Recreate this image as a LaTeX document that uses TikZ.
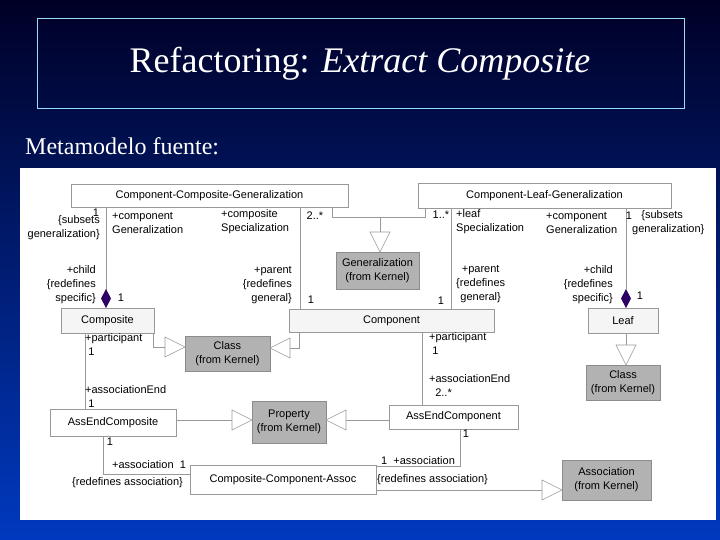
\documentclass[tikz,border=0pt]{standalone}
\usepackage{fontspec}
\setmainfont{Liberation Serif}
\newfontfamily\lsans{Liberation Sans}
\begin{document}
\begin{tikzpicture}[x=1pt,y=-1pt,
 box/.style={draw=black!40,fill=white,line width=0.6pt,font=\lsans\fontsize{11}{12}\selectfont},
 kbox/.style={draw=black!45,fill=black!30,line width=0.6pt,font=\lsans\fontsize{11}{14}\selectfont,align=center},
 lbox/.style={box,fill=black!4},
 ln/.style={draw=black!40,line width=0.6pt},
 lab/.style={font=\lsans\fontsize{11}{14}\selectfont,inner sep=0pt,align=left},
 tri/.style={draw=black!40,fill=white,line width=0.6pt},
 dia/.style={fill=black!70!red!60!blue,draw=none}]
\shade[top color=black!85!blue,bottom color=blue!70!cyan!75!black] (0,0) rectangle (720,540);
\useasboundingbox (0,0) rectangle (720,540);
\draw[cyan!40!white,line width=0.6pt] (37,18) rectangle (684,108);
\node[white,font=\fontsize{36}{40}\selectfont] (title) at (360,64) {Refactoring: \textit{Extract Composite}};
\node[white,anchor=west,font=\fontsize{24}{26}\selectfont,inner sep=0pt] (sub) at (25,146) {Metamodelo fuente:};
\fill[white] (20,168) rectangle (716,520);
% boxes
\node[box,minimum width=277pt,minimum height=23pt] (ccg) at (209.5,195.5) {Component-Composite-Generalization};
\node[box,minimum width=253pt,minimum height=25pt] (clg) at (544.5,195.5) {Component-Leaf-Generalization};
\node[kbox,minimum width=83pt,minimum height=37pt] (gen) at (377.5,270.5) {Generalization\\(from Kernel)};
\node[lbox,minimum width=93pt,minimum height=25pt] (comp) at (107.5,320.5) {Composite};
\node[lbox,minimum width=205pt,minimum height=23pt] (cpt) at (391.5,320.5) {Component};
\node[lbox,minimum width=70pt,minimum height=25pt] (leaf) at (623,320.5) {Leaf};
\node[kbox,minimum width=85pt,minimum height=35pt] (cls) at (227.5,353.5) {Class\\(from Kernel)};
\node[kbox,minimum width=74pt,minimum height=35pt] (cls2) at (623,382.5) {Class\\(from Kernel)};
\node[box,minimum width=126pt,minimum height=27pt] (aec) at (113,422.5) {AssEndComposite};
\node[kbox,minimum width=74pt,minimum height=42pt] (prop) at (289,422) {Property\\(from Kernel)};
\node[box,minimum width=129pt,minimum height=24pt] (aep) at (453.5,417) {AssEndComponent};
\node[box,minimum width=186pt,minimum height=29pt] (cca) at (283,479.5) {Composite-Component-Assoc};
\node[kbox,minimum width=89pt,minimum height=40pt] (asc) at (606.5,480) {Association\\(from Kernel)};
% connectors
\path[ln] (106,207) -- (106,290);
\fill[dia] (106,289) -- (111,298.5) -- (106,308) -- (101,298.5) -- cycle;
\path[ln] (626,208) -- (626,289);
\fill[dia] (626,289) -- (631,298.5) -- (626,308) -- (621,298.5) -- cycle;
\path[ln] (300,207) -- (300,309);
\path[ln] (451,208) -- (451,309);
\path[ln] (332,207) -- (332,217) -- (425,217) -- (425,208);
\path[ln] (380,217) -- (380,232);
\draw[tri] (370,232) -- (390,232) -- (380,252) -- cycle;
\path[ln] (626,333) -- (626,345);
\draw[tri] (616,345) -- (636,345) -- (626,365) -- cycle;
\path[ln] (153,333) -- (153,347) -- (165,347);
\draw[tri] (165,337) -- (165,357) -- (185,347) -- cycle;
\path[ln] (299,332) -- (299,348) -- (290,348);
\draw[tri] (290,338) -- (290,358) -- (270,348) -- cycle;
\path[ln] (85,333) -- (85,409);
\path[ln] (422,332) -- (422,405);
\path[ln] (176,420) -- (232,420);
\draw[tri] (232,410) -- (232,430) -- (252,420) -- cycle;
\path[ln] (389,420) -- (346,420);
\draw[tri] (346,410) -- (346,430) -- (326,420) -- cycle;
\path[ln] (103,436) -- (103,474) -- (190,474);
\path[ln] (460,429) -- (460,466) -- (376,466);
\path[ln] (376,490) -- (542,490);
\draw[tri] (542,480) -- (542,500) -- (562,490) -- cycle;
% labels
\node[lab] at (96,213) {1};
\node[lab,align=right,anchor=east] at (100,228) {\{subsets\\generalization\}};
\node[lab,anchor=west] at (112,223) {+component\\Generalization};
\node[lab,anchor=west] at (221,222) {+composite\\Specialization};
\node[lab] at (315,216) {2..*};
\node[lab] at (441,215) {1..*};
\node[lab,anchor=west] at (456,222) {+leaf\\Specialization};
\node[lab,anchor=west] at (546,223) {+component\\Generalization};
\node[lab] at (629,216) {1};
\node[lab,anchor=west] at (632,223) {\ \ \ \{subsets\\generalization\}};
\node[lab,align=right,anchor=east] at (96,285) {+child\\\{redefines\\specific\}};
\node[lab] at (121,298) {1};
\node[lab,align=right,anchor=east] at (292,285) {+parent\\\{redefines\\general\}};
\node[lab] at (311,300) {1};
\node[lab] at (441,301) {1};
\node[lab,align=center,anchor=west] at (456,284) {+parent\\\{redefines\\general\}};
\node[lab,align=right,anchor=east] at (613,285) {+child\\\{redefines\\specific\}};
\node[lab] at (640,296) {1};
\node[lab,anchor=west] at (85,345) {+participant\\\ 1};
\node[lab,anchor=west] at (429,344) {+participant\\\ 1};
\node[lab,anchor=west] at (85,397) {+associationEnd\\\ 1};
\node[lab,anchor=west] at (429,386) {+associationEnd\\\ \ 2..*};
\node[lab] at (110,442) {1};
\node[lab,anchor=west] at (112,465) {+association \ 1};
\node[lab,anchor=west] at (72,483) {\{redefines association\}};
\node[lab] at (466,434) {1};
\node[lab,anchor=west] at (381,461) {1 \ +association};
\node[lab,anchor=west] at (377,480) {\{redefines association\}};
\end{tikzpicture}
\end{document}
